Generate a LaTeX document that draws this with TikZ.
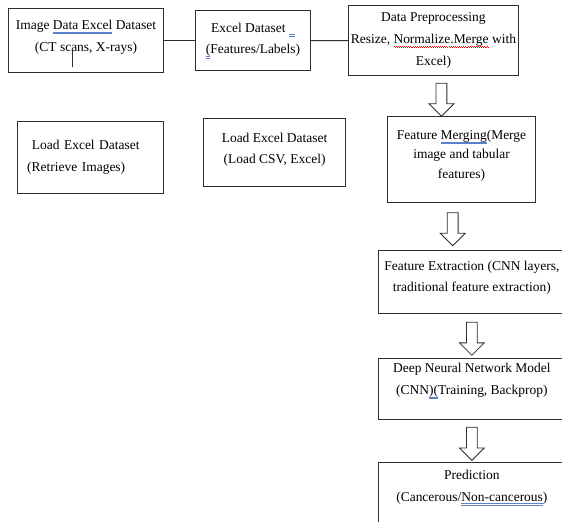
\documentclass[tikz,border=0pt]{standalone}
\usepackage{fontspec}
\setmainfont{Liberation Serif}
\usepackage{tikz}
\usetikzlibrary{positioning, shapes.arrows, calc}
\definecolor{ulblue}{RGB}{90,130,200}
\definecolor{boxline}{RGB}{45,45,45}
\newsavebox{\ulbox}
\newcommand{\bluul}[1]{\sbox\ulbox{#1}\rlap{\usebox\ulbox}\textcolor{ulblue}{\rlap{\rule[-2.2pt]{\wd\ulbox}{0.5pt}}\rule[-3.6pt]{\wd\ulbox}{0.5pt}}}
\newcommand{\redwave}[1]{\sbox\ulbox{#1}\rlap{\usebox\ulbox}\textcolor{red}{\hbox to \wd\ulbox{\xleaders\hbox{\rule[-2.6pt]{0.9pt}{0.5pt}\rule[-3.3pt]{0.9pt}{0.5pt}}\hfill}}}
\tikzset{font=\fontsize{11.5pt}{18.5pt}\selectfont}
\tikzset{stage/.style={rectangle, draw=boxline, line width=0.9pt, align=center, inner sep=2pt}}
\tikzset{downarrow/.style={single arrow, draw=boxline, line width=0.7pt, shape border rotate=270,
  minimum height=0.99cm, minimum width=0.72cm, single arrow head extend=0.21cm, inner sep=0.15cm}}

\begin{document}
\begin{tikzpicture}[x=0.03cm, y=-0.03cm, node distance=1.3cm]
  \useasboundingbox (0,0) rectangle (562,521);
  %Nodes
  \node[stage, anchor=north west, minimum width=4.65cm, minimum height=1.92cm, text depth=8pt] (img) at (8,8)
    {Image \bluul{Data Excel} Dataset\\(CT scans, X-rays)};
  \node[stage, anchor=north west, minimum width=3.45cm, minimum height=1.8cm] (xls) at (195,10)
    {Excel Dataset \textcolor{ulblue}{\rlap{\rule[-2pt]{5pt}{0.5pt}}\rule[-3.4pt]{5pt}{0.5pt}}\\\bluul{(}Features/Labels)};
  \node[stage, anchor=north west, minimum width=4.95cm, minimum height=2.1cm] (prep) at (348,5)
    {Data Preprocessing\\Resize, \redwave{Normalize.Merge} with\\Excel)};
  \node[stage, anchor=north west, minimum width=4.38cm, minimum height=2.16cm, align=left, text width=3.8cm] (loadimg) at (17,121)
    {\hspace*{4pt}Load Excel Dataset\\(Retrieve Images)};
  \node[stage, anchor=north west, minimum width=4.26cm, minimum height=2.04cm, text depth=7pt] (loadcsv) at (203,118)
    {Load Excel Dataset\\(Load CSV, Excel)};
  \node[stage, anchor=north west, minimum width=4.44cm, minimum height=2.58cm, text depth=9pt,
    font=\fontsize{11.5pt}{16.5pt}\selectfont] (merge) at (387,116)
    {Feature \bluul{Merging}(Merge\\image and tabular\\features)};
  \node[stage, anchor=north west, minimum width=5.6cm, minimum height=1.89cm, text depth=10pt] (extr) at (378,250)
    {Feature Extraction (CNN layers,\\traditional feature extraction)};
  \node[stage, minimum width=5.6cm, minimum height=1.83cm, text depth=17pt] (dnn) [below=1.32cm of extr]
    {Deep Neural Network Model\\(CNN\bluul{)(}Training, Backprop)};
  \node[stage, minimum width=5.6cm, minimum height=1.8cm, text depth=12pt] (pred) [below=1.26cm of dnn]
    {Prediction\\(Cancerous/\bluul{Non-cancerous})};
  % Arrows
  \node[downarrow] (ar1) at ($(prep.south)!0.5!(merge.north)+(-6,1)$) {};
  \node[downarrow] (ar2) at ($(merge.south)!0.5!(extr.north)+(-14,0)$) {};
  \node[downarrow] (ar3) at ($(extr.south)!0.5!(dnn.north)$) {};
  \node[downarrow] (ar4) at ($(dnn.south)!0.5!(pred.north)$) {};
  % Edges
  \begin{scope}[every edge/.style={draw=boxline, line width=0.9pt}]
    \draw (img) edge (xls);
    \draw (xls) edge (prep);
  \end{scope}
  \draw[boxline, line width=0.6pt] (72,48) -- (72,67);
\end{tikzpicture}
\end{document}
